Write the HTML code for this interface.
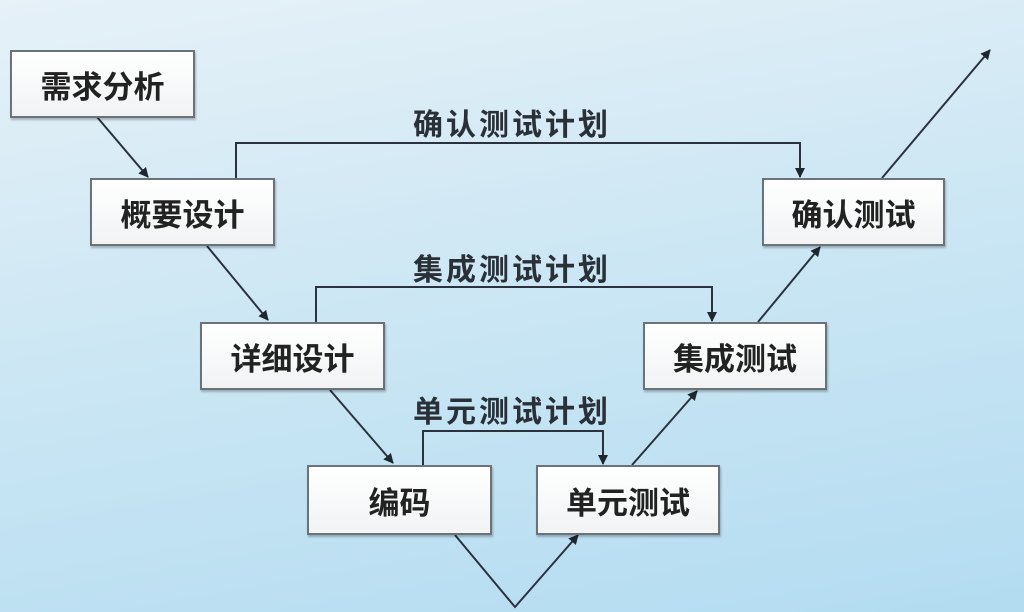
<!DOCTYPE html>
<html><head><meta charset="utf-8"><style>
body{margin:0;width:1024px;height:612px;overflow:hidden;background:linear-gradient(170deg,#e6f1f8 0%,#cde7f4 45%,#b3dcf1 100%);font-family:"Liberation Sans","Noto Sans CJK SC",sans-serif;}
.b{position:absolute;background:linear-gradient(#fff,#f1f3f4);border:2px solid #6b7278;box-shadow:1px 2px 2px rgba(0,0,0,.25);font-size:31px;font-weight:bold;color:#222;display:flex;align-items:center;justify-content:center;box-sizing:border-box;}
.l{position:absolute;font-size:30px;letter-spacing:3px;font-weight:bold;color:#2a3038;}
svg{position:absolute;left:0;top:0}
</style></head><body>
<svg width="1024" height="612"><defs><marker id="a" markerWidth="10" markerHeight="10" refX="9" refY="5" orient="auto" markerUnits="userSpaceOnUse"><path d="M0,0L10,5L0,10z" fill="#1e2630"/></marker></defs>
<g stroke="#2a3240" stroke-width="2" fill="none">
<line x1="97" y1="117" x2="148" y2="177" marker-end="url(#a)"/>
<line x1="207" y1="246" x2="268" y2="320" marker-end="url(#a)"/>
<line x1="330" y1="390" x2="393" y2="463" marker-end="url(#a)"/>
<polyline points="455,535 515,607 578,535" marker-end="url(#a)"/>
<line x1="632" y1="465" x2="697" y2="391" marker-end="url(#a)"/>
<line x1="758" y1="322" x2="820" y2="247" marker-end="url(#a)"/>
<line x1="882" y1="178" x2="990" y2="50" marker-end="url(#a)"/>
<polyline points="236,178 236,143 800,143 800,177" marker-end="url(#a)"/>
<polyline points="316,322 316,287 712,287 712,321" marker-end="url(#a)"/>
<polyline points="423,465 423,431 603,431 603,464" marker-end="url(#a)"/>
</g></svg>
<div class="b" style="left:10px;top:50px;width:185px;height:68px">需求分析</div>
<div class="b" style="left:90px;top:178px;width:185px;height:68px">概要设计</div>
<div class="b" style="left:200px;top:322px;width:185px;height:68px">详细设计</div>
<div class="b" style="left:307px;top:465px;width:185px;height:70px">编码</div>
<div class="b" style="left:536px;top:465px;width:184px;height:70px">单元测试</div>
<div class="b" style="left:643px;top:322px;width:184px;height:68px">集成测试</div>
<div class="b" style="left:762px;top:178px;width:183px;height:68px">确认测试</div>
<div class="l" style="left:413px;top:100px">确认测试计划</div>
<div class="l" style="left:413px;top:245px">集成测试计划</div>
<div class="l" style="left:413px;top:387px">单元测试计划</div>
</body></html>
